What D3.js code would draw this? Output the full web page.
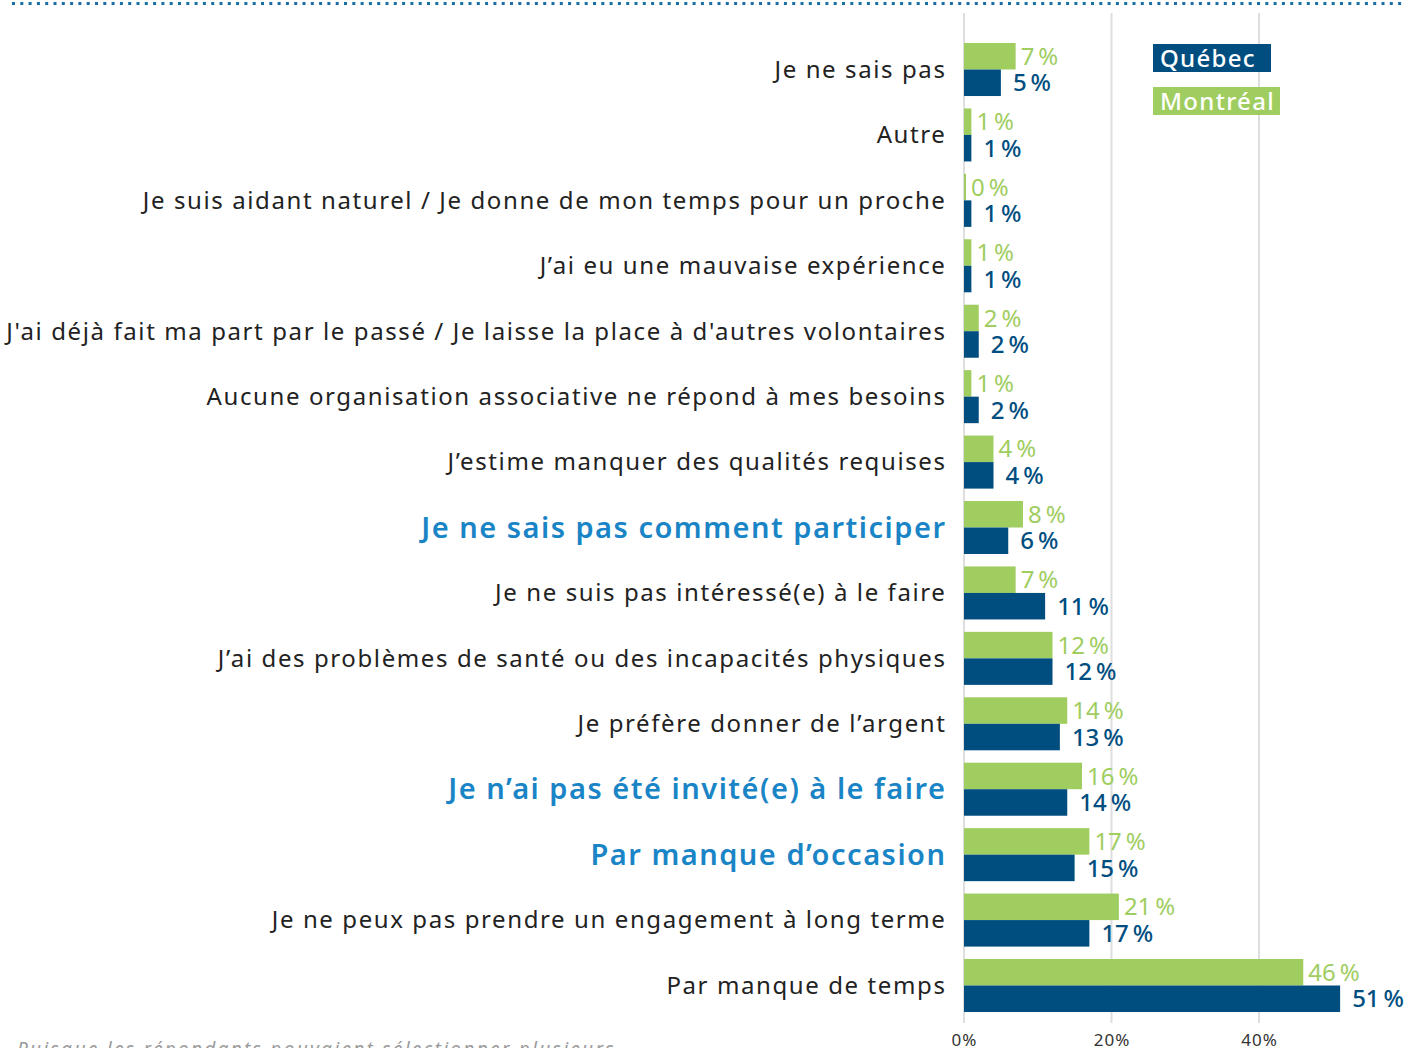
<!DOCTYPE html>
<html>
<head>
<meta charset="utf-8">
<script src="https://cdn.jsdelivr.net/npm/d3@7"></script>
<style>
  html, body { margin: 0; padding: 0; background: #fff; overflow: hidden; }
  svg { display: block; font-family: "Noto Sans", sans-serif; }
</style>
</head>
<body>
<div id="chart"></div>
<script>
// categories, top to bottom
const categories = [
    "Je ne sais pas",
    "Autre",
    "Je suis aidant naturel / Je donne de mon temps pour un proche",
    "J’ai eu une mauvaise expérience",
    "J'ai déjà fait ma part par le passé / Je laisse la place à d'autres volontaires",
    "Aucune organisation associative ne répond à mes besoins",
    "J’estime manquer des qualités requises",
    "Je ne sais pas comment participer",
    "Je ne suis pas intéressé(e) à le faire",
    "J’ai des problèmes de santé ou des incapacités physiques",
    "Je préfère donner de l’argent",
    "Je n’ai pas été invité(e) à le faire",
    "Par manque d’occasion",
    "Je ne peux pas prendre un engagement à long terme",
    "Par manque de temps"
];
const highlighted = [
    "Je ne sais pas comment participer",
    "Je n’ai pas été invité(e) à le faire",
    "Par manque d’occasion"
];
const montreal = [7, 1, 0, 1, 2, 1, 4, 8, 7, 12, 14, 16, 17, 21, 46];
const quebec   = [5, 1, 1, 1, 2, 2, 4, 6, 11, 12, 13, 14, 15, 17, 51];
const seriesNames = ["Montréal", "Québec"];
const tickValues = [0, 20, 40];
const footnote = "Puisque les répondants pouvaient sélectionner plusieurs";

const W = 1404, H = 1048;
const GREEN = "#a0cd5f", BLUE = "#004e7f", HILITE = "#1a85c6";

const rows = categories.map((c, i) => ({cat: c, "Montréal": montreal[i], "Québec": quebec[i]}));

const svg = d3.select("#chart").append("svg")
    .attr("width", W)
    .attr("height", H);

// dotted rule at the top
svg.append("line")
    .attr("x1", 12).attr("x2", W)
    .attr("y1", 3.5).attr("y2", 3.5)
    .attr("stroke", "#1a6fa8")
    .attr("stroke-width", 3)
    .attr("stroke-dasharray", "3 5.3");

let x = d3.scaleLinear()
    .domain([0, 20])
    .range([964, 1111.5]);

let y = d3.scaleBand()
    .domain(categories)
    .range([43, 43 + 14 * 65.43 + 53])
    .paddingInner(12.4 / 65.43)
    .paddingOuter(0);

let y1 = d3.scaleBand()
    .domain(seriesNames)
    .range([0, y.bandwidth()]);

let color = d3.scaleOrdinal()
    .domain(seriesNames)
    .range([GREEN, BLUE]);

// grid
let grid = svg.append("g").attr("class", "grid");
grid.selectAll("line")
    .data(tickValues)
    .enter()
    .append("line")
    .attr("x1", d => x(d)).attr("x2", d => x(d))
    .attr("y1", 13).attr("y2", 1023)
    .attr("stroke", "#dedede")
    .attr("stroke-width", 2);

// x axis labels
let xAxis = d3.axisBottom(x)
    .tickValues(tickValues)
    .tickSize(0)
    .tickPadding(0)
    .tickFormat(d => d + "%");

svg.append("g")
    .attr("transform", "translate(0,1034)")
    .call(xAxis)
    .call(g => g.select(".domain").remove())
    .call(g => g.selectAll("text")
        .attr("font-family", "Noto Sans, sans-serif")
        .attr("font-size", 17)
        .attr("letter-spacing", 1)
        .attr("fill", "#333"));

// bars
let groups = svg.append("g").selectAll("g")
    .data(rows)
    .enter()
    .append("g")
    .attr("transform", d => "translate(0," + y(d.cat) + ")");

groups.selectAll("rect")
    .data(d => seriesNames.map(k => ({key: k, value: d[k]})))
    .enter()
    .append("rect")
    .attr("x", x(0))
    .attr("y", d => y1(d.key))
    .attr("height", y1.bandwidth())
    .attr("width", d => Math.max(x(d.value) - x(0), 2))
    .attr("fill", d => color(d.key));

// value labels
groups.selectAll("text.val")
    .data(d => seriesNames.map(k => ({key: k, value: d[k]})))
    .enter()
    .append("text")
    .attr("class", "val")
    .attr("x", d => Math.max(x(d.value), x(0) + 2) + (d.key === "Québec" ? 12 : 5))
    .attr("y", d => y1(d.key) + y1.bandwidth() / 2)
    .attr("dy", "0.36em")
    .attr("font-size", 24)
    .attr("letter-spacing", 1.2)
    .attr("font-weight", d => d.key === "Québec" ? 500 : 400)
    .attr("fill", d => color(d.key))
    .text(d => d.value + "\u202f%");

// category labels
svg.append("g").selectAll("text")
    .data(categories)
    .enter()
    .append("text")
    .attr("x", 946.5)
    .attr("y", d => y(d) + y1.bandwidth())
    .attr("dy", "0.35em")
    .attr("text-anchor", "end")
    .attr("font-size", d => highlighted.includes(d) ? 29 : 24)
    .attr("font-weight", d => highlighted.includes(d) ? 600 : 400)
    .attr("letter-spacing", d => highlighted.includes(d) ? 1.5 : 1.6)
    .attr("fill", d => highlighted.includes(d) ? HILITE : "#222")
    .text(d => d);

// legend
const legend = [
    {name: "Québec", y: 44, w: 118},
    {name: "Montréal", y: 87, w: 127}
];
let lg = svg.append("g").selectAll("g")
    .data(legend)
    .enter()
    .append("g")
    .attr("transform", d => "translate(1153," + d.y + ")");
lg.append("rect")
    .attr("width", d => d.w)
    .attr("height", 28)
    .attr("fill", d => color(d.name));
lg.append("text")
    .attr("x", 7)
    .attr("y", 14)
    .attr("dy", "0.36em")
    .attr("font-size", 24)
    .attr("font-weight", 500)
    .attr("letter-spacing", 1.3)
    .attr("fill", "#fff")
    .text(d => d.name);

// footnote (cut off by the frame)
svg.append("text")
    .attr("x", 17)
    .attr("y", 1056)
    .attr("font-size", 19)
    .attr("font-style", "italic")
    .attr("letter-spacing", 2.3)
    .attr("fill", "#9a9a9a")
    .text(footnote);
</script>
</body>
</html>
